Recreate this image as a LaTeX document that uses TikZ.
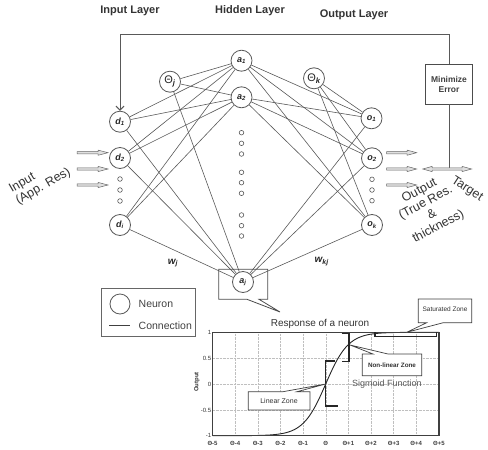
\documentclass[tikz,border=0pt]{standalone}
\usepackage{fontspec}
\setmainfont{Liberation Sans}
\usetikzlibrary{arrows.meta}

\tikzset{
  neuron/.style={circle, draw=black!65, fill=white, line width=0.8pt, minimum size=21pt, inner sep=0pt,
    text=black!85, font=\fontsize{9}{9}\selectfont\bfseries\itshape},
  gap/.style={circle, draw=black!65, line width=0.6pt, minimum size=4.6pt, inner sep=0pt},
  link/.style={black!65, line width=0.6pt},
  hollow/.style={draw=black!60, fill=black!12, line width=0.5pt},
  layer/.style={font=\fontsize{11}{11}\selectfont\bfseries, text=black!80},
  bigtxt/.style={font=\fontsize{12.5}{13.5}\selectfont, text=black!80, inner sep=1pt},
  wlab/.style={font=\fontsize{10}{10}\selectfont\bfseries\itshape, text=black!85},
  zone/.style={draw=black!75, line width=0.7pt, fill=white},
  bracket/.style={black!85, line width=1.2pt},
  grid/.style={black!25, line width=0.4pt, densely dotted},
}

\begin{document}
\begin{tikzpicture}[x=1pt, y=-1pt, line width=0.8pt]
\useasboundingbox (0,0) rectangle (488,450);

%% layer titles
\node[layer] (hin)  at (130,11) {Input Layer};
\node[layer] (hhid) at (250,11) {Hidden Layer};
\node[layer] (hout) at (354,15) {Output Layer};

%% input layer
\node[neuron] (d1) at (120,121.7) {d\textsubscript{1}};
\node[neuron] (d2) at (120,158)   {d\textsubscript{2}};
\node[neuron] (di) at (120,225)   {d\textsubscript{i}};
\foreach \y [count=\n] in {179,190,201}
  \node[gap] (ind\n) at (120,\y) {};
\node[neuron] (thj) at (170,81.7) {\fontsize{11}{11}\selectfont\upshape\mdseries Θ\textsubscript{\bfseries\itshape j}};

%% hidden layer
\node[neuron] (a1) at (241.5,60.7) {a\textsubscript{1}};
\node[neuron] (a2) at (241.5,97.3) {a\textsubscript{2}};
\node[neuron] (aj) at (243,282)    {a\textsubscript{j}};
\foreach \y [count=\n] in {132.7,143.3,154,172.3,182.7,193.3,215,225.7,236}
  \node[gap] (hd\n) at (241.5,\y) {};

%% output layer
\node[neuron] (thk) at (314,78.3) {\fontsize{11}{11}\selectfont\upshape\mdseries Θ\textsubscript{\bfseries\itshape k}};
\node[neuron] (o1) at (371.5,118.3) {o\textsubscript{1}};
\node[neuron] (o2) at (372,158.3)   {o\textsubscript{2}};
\node[neuron] (ok) at (372,225)     {o\textsubscript{k}};
\foreach \y [count=\n] in {179.3,190,200.7}
  \node[gap] (outd\n) at (372,\y) {};

%% connections
\foreach \s in {d1,d2,di,thj}
  \foreach \t in {a1,a2,aj}
    \draw[link] (\s) -- (\t);
\foreach \s in {a1,a2,aj,thk}
  \foreach \t in {o1,o2,ok}
    \draw[link] (\s) -- (\t);
\node[wlab] (wj)  at (173,263)   {w\textsubscript{j}};
\node[wlab] (wkj) at (321.7,261.7) {w\textsubscript{kj}};

%% error feedback
\node[draw=black!70, line width=0.8pt, minimum width=46.6pt, minimum height=40pt, align=center,
  font=\fontsize{8.5}{10}\selectfont\bfseries, text=black!75] (mini) at (449,84) {Minimize\\Error};
\coordinate (fbcorner) at (120,34);
\coordinate (tgt) at (449,169);
\draw[black!65, line width=1pt, -{Straight Barb[length=4pt,width=8pt]}] (mini.north) |- (fbcorner) -- (d1.north);
\draw[black!65, line width=0.8pt] (mini.south) -- (tgt);

%% input / output / target arrows
\foreach \y in {152.7,169,185}{
  \draw[hollow] (77,\y-1.2) -- (98,\y-1.2) -- (98,\y-2.6) -- (108,\y) -- (98,\y+2.6) -- (98,\y+1.2) -- (77,\y+1.2) -- cycle;
  \draw[hollow] (386.7,\y-1.2) -- (407,\y-1.2) -- (407,\y-2.6) -- (416.7,\y) -- (407,\y+2.6) -- (407,\y+1.2) -- (386.7,\y+1.2) -- cycle;
}
\draw[hollow] (422.7,169) -- (432,166.4) -- (432,167.8) -- (462,167.8) -- (462,166.4) -- (471.7,169)
  -- (462,171.6) -- (462,170.2) -- (432,170.2) -- (432,171.6) -- cycle;

\node[bigtxt, rotate=30, align=left] (inlab) at (40,181) {Input\\(App. Res)};
\node[bigtxt, rotate=28, align=center] (outlab) at (429,209) {Output\\(True Res.\\\&\\thickness)};
\node[bigtxt, rotate=-33] (tglab) at (467,189) {Target};

%% callout around a_j
\draw[black!70, line width=0.8pt] (218.7,269.3) -- (267.7,269.3) -- (267.7,299.3) -- (259,299.3)
  -- (280,312) -- (247,299.3) -- (218.7,299.3) -- cycle;

%% legend
\draw[black!60, line width=1pt] (101.7,288.3) rectangle (195,336);
\node[neuron, minimum size=20pt] (lgn) at (120,304) {};
\draw[black!75, line width=0.8pt] (109,325.7) -- (130,325.7);
\node[anchor=west, font=\fontsize{10.5}{10.5}\selectfont, text=black!75] (lgneuron) at (135,303.5) {Neuron};
\node[anchor=west, font=\fontsize{10.5}{10.5}\selectfont, text=black!75] (lgconn) at (135,326) {Connection};

%% response plot
\foreach \k in {-4,...,4}
  \draw[grid] ({325.7+22.63*\k},332.3) -- ({325.7+22.63*\k},435.7);
\foreach \y in {358,384,410}
  \draw[grid] (212.7,\y) -- (439,\y);
\draw[black!85, line width=0.9pt] plot[domain=-5:5, samples=81, smooth] ({325.7+22.63*\x},{384-51.7*tanh(\x)});
\draw[black!75, line width=1.2pt] (212.7,332.3) rectangle (439,435.7);
\node[font=\fontsize{10}{10}\selectfont, text=black!80] (resp) at (320,324.3) {Response of a neuron};
\node[font=\fontsize{9}{9}\selectfont, text=black!65] (sigf) at (387,384.3) {Sigmoid Function};
\node[rotate=90, font=\fontsize{6}{6}\selectfont\bfseries, text=black!80] (ylab) at (197,382) {Output};
\foreach \y/\t in {332.3/1,358/0.5,384/0,410/-0.5,435.7/-1}
  \node[anchor=east, inner sep=0pt, font=\fontsize{6}{6}\selectfont, text=black!80] at (211.5,\y) {\t};
\foreach \k/\t in {-5/Θ-5,-4/Θ-4,-3/Θ-3,-2/Θ-2,-1/Θ-1,0/Θ,1/Θ+1,2/Θ+2,3/Θ+3,4/Θ+4,5/Θ+5}
  \node[font=\fontsize{6}{6}\selectfont\bfseries, text=black!75] at ({325.7+22.63*\k},443) {\t};

%% zones
\draw[bracket] (335,361) -- (325.7,361) -- (325.7,406) -- (338.3,406);
\draw[bracket] (341.7,333.3) -- (349,333.3) -- (349,361.7) -- (341.7,361.7);
\draw[bracket] (375,332.3) -- (375,336.7) -- (436.7,336.7) -- (436.7,332.3);
\draw[zone] (248.3,391.7) -- (283,391.7) -- (325.7,384) -- (297,391.7) -- (310,391.7) -- (310,410) -- (248.3,410) -- cycle;
\node[font=\fontsize{7}{7}\selectfont, text=black!80] (linz) at (279,401) {Linear Zone};
\draw[zone] (362.3,354) -- (373,354) -- (350,345) -- (388,354) -- (421.7,354) -- (421.7,375.7) -- (362.3,375.7) -- cycle;
\node[font=\fontsize{6.3}{6.3}\selectfont\bfseries, text=black!80] (nlinz) at (392,365) {Non-linear Zone};
\draw[zone] (418.3,299) -- (471.7,299) -- (471.7,322.7) -- (443.3,322.7) -- (406.7,332.3) -- (426.7,322.7) -- (418.3,322.7) -- cycle;
\node[font=\fontsize{6.5}{6.5}\selectfont, text=black!80] (satz) at (445,309) {Saturated Zone};
\end{tikzpicture}
\end{document}
